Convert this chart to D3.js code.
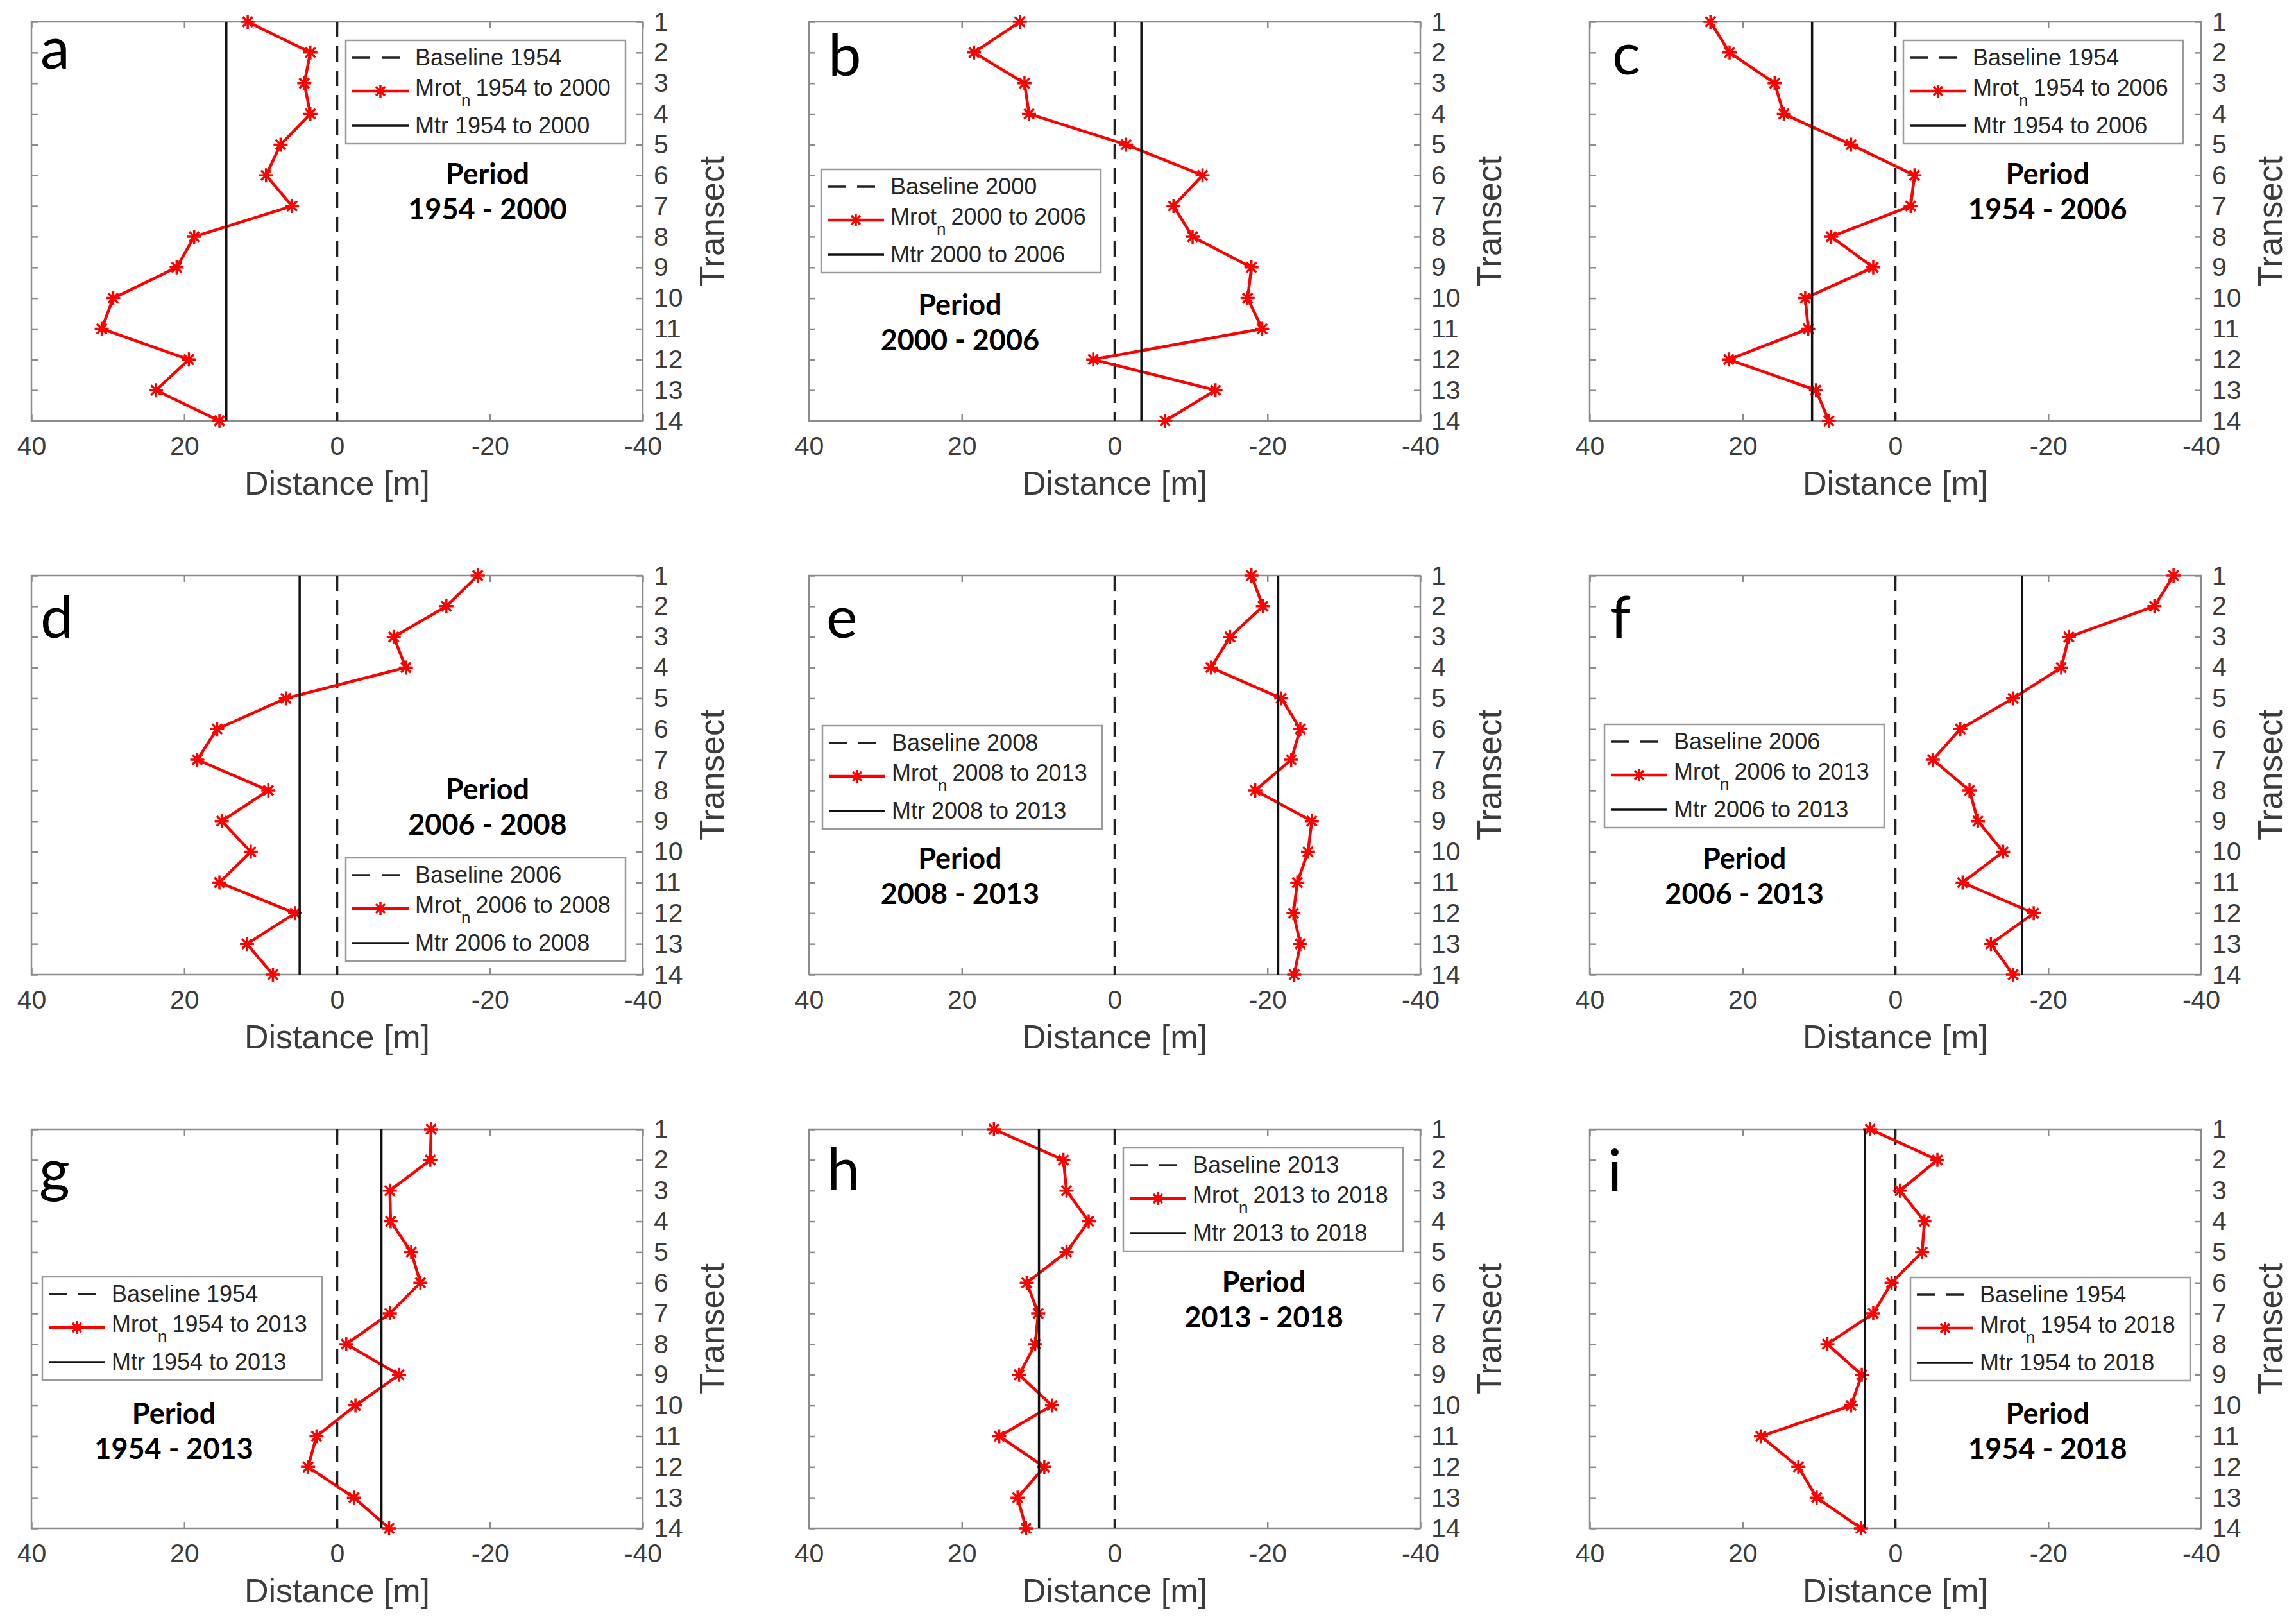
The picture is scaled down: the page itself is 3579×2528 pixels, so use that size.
<!DOCTYPE html>
<html>
<head>
<meta charset="utf-8">
<script src="https://cdn.jsdelivr.net/npm/d3@7"></script>
<style>
  body { margin: 0; background: #fff; }
  text { font-family: "Liberation Sans", Arial, sans-serif; }
</style>
</head>
<body>
<svg id="chart" width="3579" height="2528"></svg>
<script>
// data
const transects = [1, 2, 3, 4, 5, 6, 7, 8, 9, 10, 11, 12, 13, 14];
const xTicks = [40, 20, 0, -20, -40];
const panelLetters = ['a', 'b', 'c', 'd', 'e', 'f', 'g', 'h', 'i'];
const baselineYears = ['1954', '2000', '1954', '2006', '2008', '2006', '1954', '2013', '1954'];
const fromYears = ['1954', '2000', '1954', '2006', '2008', '2006', '1954', '2013', '1954'];
const toYears = ['2000', '2006', '2006', '2008', '2013', '2013', '2013', '2018', '2018'];

const mrotA = [11.7, 3.5, 4.3, 3.5, 7.4, 9.3, 5.9, 18.7, 21.0, 29.3, 30.8, 19.4, 23.7, 15.4];
const mrotB = [12.4, 18.4, 11.8, 11.2, -1.5, -11.5, -7.7, -10.2, -17.9, -17.4, -19.3, 2.8, -13.2, -6.6];
const mrotC = [24.2, 21.7, 15.8, 14.6, 5.8, -2.5, -2.0, 8.4, 2.9, 11.8, 11.4, 21.8, 10.4, 8.7];
const mrotD = [-18.4, -14.3, -7.4, -9.0, 6.7, 15.7, 18.3, 9.0, 15.1, 11.3, 15.4, 5.5, 11.8, 8.4];
const mrotE = [-17.9, -19.4, -15.1, -12.6, -21.8, -24.3, -23.1, -18.4, -25.8, -25.3, -23.9, -23.4, -24.3, -23.5];
const mrotF = [-36.4, -33.9, -22.7, -21.7, -15.4, -8.5, -4.9, -9.7, -10.8, -14.1, -8.8, -18.1, -12.5, -15.4];
const mrotG = [-12.3, -12.2, -6.9, -7.0, -9.7, -10.9, -6.9, -1.2, -8.1, -2.4, 2.7, 3.8, -2.2, -6.8];
const mrotH = [15.8, 6.7, 6.3, 3.4, 6.3, 11.5, 10.0, 10.4, 12.5, 8.2, 15.1, 9.2, 12.7, 11.6];
const mrotI = [3.3, -5.5, -0.6, -3.8, -3.5, 0.5, 2.9, 8.9, 4.4, 5.8, 17.6, 12.7, 10.3, 4.5];
const mrotSeries = [mrotA, mrotB, mrotC, mrotD, mrotE, mrotF, mrotG, mrotH, mrotI];
const mtrValues = [14.5, -3.5, 10.9, 4.9, -21.4, -16.6, -5.8, 9.9, 4.0];

// layout (pixels / fractions of the plot box)
const colLeft = [49, 1261, 2478];
const rowTop = [34, 897, 1760];
const W = 953, H = 622;
const layout = [
  { legend: [490, 29], period: [0.746, 0.383], letter: [14, 73] },
  { legend: [19, 230], period: [0.247, 0.711], letter: [30, 84] },
  { legend: [489, 29], period: [0.749, 0.383], letter: [35, 82] },
  { legend: [490, 440], period: [0.746, 0.537], letter: [14, 97] },
  { legend: [21, 234], period: [0.247, 0.711], letter: [27, 97] },
  { legend: [23, 232], period: [0.253, 0.711], letter: [32, 97] },
  { legend: [17, 230], period: [0.233, 0.714], letter: [12, 96] },
  { legend: [490, 29], period: [0.744, 0.385], letter: [28, 94] },
  { legend: [500, 231], period: [0.749, 0.714], letter: [28, 97] }
];

const axisGray = '#8c8c8c';
const labelGray = '#3c3c3c';
const red = '#ff0000';

const svg = d3.select('#chart');
svg.append('rect').attr('width', 3579).attr('height', 2528).attr('fill', '#fff');

const x = d3.scaleLinear().domain([40, -40]).range([0, W]);
const y = d3.scaleLinear().domain([1, 14]).range([0, H]);
const plain = d => String(d);

const star = s => {
  const k = s * 0.7;
  return `M${-s},0H${s}M0,${-s}V${s}M${-k},${-k}L${k},${k}M${-k},${k}L${k},${-k}`;
};

const styleAxis = g => {
  g.select('.domain').remove();
  g.selectAll('.tick line').attr('stroke', axisGray).attr('stroke-width', 2.5);
  g.selectAll('.tick text')
    .attr('fill', labelGray)
    .style('font-size', '41px');
};

panelLetters.forEach((letter, i) => {
  const col = i % 3, row = Math.floor(i / 3);
  const lay = layout[i];
  const data = mrotSeries[i].map((v, j) => ({ t: transects[j], v }));
  const g = svg.append('g')
    .attr('transform', `translate(${colLeft[col]},${rowTop[row]})`);

  // ticks on all four sides, pointing inward
  g.append('g')
    .attr('transform', `translate(0,${H})`)
    .call(d3.axisBottom(x).tickValues(xTicks).tickFormat(plain)
      .tickSize(-10).tickSizeOuter(0).tickPadding(24))
    .call(styleAxis);
  g.append('g')
    .call(d3.axisTop(x).tickValues(xTicks).tickSize(-10).tickSizeOuter(0).tickFormat(''))
    .call(styleAxis);
  g.append('g')
    .attr('transform', `translate(${W},0)`)
    .call(d3.axisRight(y).tickValues(transects).tickFormat(plain)
      .tickSize(-10).tickSizeOuter(0).tickPadding(17))
    .call(styleAxis);
  g.append('g')
    .call(d3.axisLeft(y).tickValues(transects).tickSize(-10).tickSizeOuter(0).tickFormat(''))
    .call(styleAxis);

  g.append('rect')
    .attr('width', W).attr('height', H)
    .attr('fill', 'none')
    .attr('stroke', axisGray)
    .attr('stroke-width', 2.5);

  // axis titles
  g.append('text')
    .attr('x', W / 2).attr('y', H + 115)
    .attr('text-anchor', 'middle')
    .attr('fill', labelGray)
    .style('font-size', '52px')
    .text('Distance [m]');
  g.append('text')
    .attr('transform', `translate(${W + 126},${H / 2}) rotate(-90)`)
    .attr('text-anchor', 'middle')
    .attr('fill', labelGray)
    .style('font-size', '53px')
    .text('Transect');

  // baseline (0 m)
  g.append('line')
    .attr('x1', x(0)).attr('x2', x(0))
    .attr('y1', 0).attr('y2', H)
    .attr('stroke', '#222')
    .attr('stroke-width', 3.5)
    .attr('stroke-dasharray', '24,14');

  // Mrot_n
  g.append('path')
    .datum(data)
    .attr('fill', 'none')
    .attr('stroke', red)
    .attr('stroke-width', 4.5)
    .attr('d', d3.line().x(d => x(d.v)).y(d => y(d.t)));
  g.selectAll('.mark')
    .data(data)
    .enter()
    .append('path')
    .attr('class', 'mark')
    .attr('transform', d => `translate(${x(d.v)},${y(d.t)})`)
    .attr('d', star(11))
    .attr('fill', 'none')
    .attr('stroke', red)
    .attr('stroke-width', 3.5);

  // Mtr
  g.append('line')
    .attr('x1', x(mtrValues[i])).attr('x2', x(mtrValues[i]))
    .attr('y1', 0).attr('y2', H)
    .attr('stroke', '#111')
    .attr('stroke-width', 3.5);

  // panel letter
  g.append('text')
    .attr('x', lay.letter[0]).attr('y', lay.letter[1])
    .attr('fill', '#000')
    .style('font-family', 'Lato, "Open Sans", sans-serif')
    .style('font-size', '92px')
    .text(letter);

  // period label
  const period = g.append('text')
    .attr('text-anchor', 'middle')
    .attr('fill', '#000')
    .style('font-family', 'Lato, "Open Sans", sans-serif')
    .style('font-weight', 700)
    .style('font-size', '45px');
  period.append('tspan')
    .attr('x', lay.period[0] * W).attr('y', lay.period[1] * H + 15)
    .text('Period');
  period.append('tspan')
    .attr('x', lay.period[0] * W).attr('y', lay.period[1] * H + 70)
    .text(`${fromYears[i]} - ${toYears[i]}`);

  // legend
  const lg = g.append('g')
    .attr('transform', `translate(${lay.legend[0]},${lay.legend[1]})`);
  lg.append('rect')
    .attr('width', 436).attr('height', 161)
    .attr('fill', '#fff')
    .attr('stroke', '#9a9a9a')
    .attr('stroke-width', 2.5);
  const rows = [27, 79, 133];

  lg.append('line')
    .attr('x1', 10).attr('x2', 98).attr('y1', rows[0]).attr('y2', rows[0])
    .attr('stroke', '#222').attr('stroke-width', 3.5)
    .attr('stroke-dasharray', '28,18');
  lg.append('line')
    .attr('x1', 10).attr('x2', 98).attr('y1', rows[1]).attr('y2', rows[1])
    .attr('stroke', red).attr('stroke-width', 4.5);
  lg.append('path')
    .attr('transform', `translate(54,${rows[1]})`)
    .attr('d', star(10))
    .attr('fill', 'none').attr('stroke', red).attr('stroke-width', 3.5);
  lg.append('line')
    .attr('x1', 10).attr('x2', 98).attr('y1', rows[2]).attr('y2', rows[2])
    .attr('stroke', '#111').attr('stroke-width', 3.5);

  const legText = (yy) => lg.append('text')
    .attr('x', 108).attr('y', yy + 12)
    .attr('fill', '#262626')
    .style('font-size', '36px');
  legText(rows[0]).text(`Baseline ${baselineYears[i]}`);
  const mt = legText(rows[1] - 5);
  mt.append('tspan').text('Mrot');
  mt.append('tspan').attr('dy', 16).style('font-size', '26px').text('n');
  mt.append('tspan').attr('dy', -16).attr('dx', 8).text(`${fromYears[i]} to ${toYears[i]}`);
  legText(rows[2]).text(`Mtr ${fromYears[i]} to ${toYears[i]}`);
});
</script>
</body>
</html>
